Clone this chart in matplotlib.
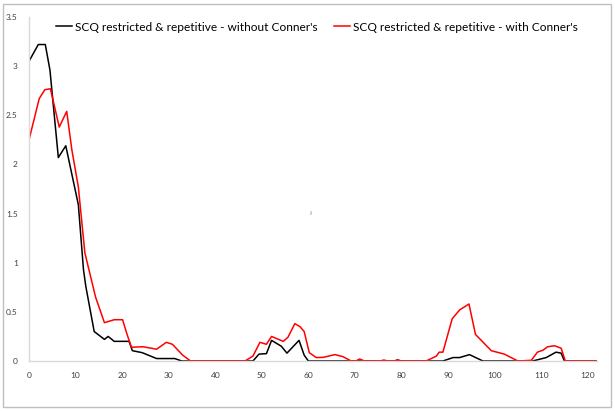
import matplotlib.pyplot as plt
from matplotlib.patches import Rectangle
from matplotlib.ticker import FuncFormatter

# values
x_without = [0, 2, 3.5, 4.5, 6.3, 7.9, 10.6, 11.7, 12.2, 14, 16.2, 17, 18.3, 21.5, 22.2, 24.3,
             27.4, 31.3, 32.8, 48.1, 49.4, 51, 52.1, 54.2, 55.4, 58, 59.1, 60, 78.5, 79.2, 80,
             88.9, 91.1, 92.5, 94.6, 97.5, 108.2, 111.1, 113.2, 114.3, 115, 121.8]
y_without = [3.05, 3.22, 3.22, 2.96, 2.07, 2.19, 1.59, 0.93, 0.76, 0.30, 0.22, 0.25, 0.20, 0.20,
             0.105, 0.085, 0.025, 0.025, 0, 0, 0.07, 0.075, 0.21, 0.15, 0.08, 0.21, 0.06, 0,
             0, 0.01, 0, 0, 0.035, 0.035, 0.065, 0, 0, 0.035, 0.09, 0.08, 0, 0]

x_with = [0, 2.2, 3.4, 4.6, 6.5, 8.1, 9.2, 10.6, 12, 14.3, 16.2, 18.3, 20.1, 21, 22, 24.5, 27.4,
          29.5, 30.8, 33, 34.7, 46.4, 48.1, 49.6, 51, 52.1, 54.6, 55.6, 57.1, 58.2, 59.1, 60.2,
          61.7, 63.2, 65.7, 67.4, 69.2, 70.2, 71, 72.1, 75.5, 76.2, 77, 78.5, 79.1, 79.7, 85.3,
          87.5, 88.1, 88.9, 90.9, 92.5, 94.5, 95.9, 99.3, 102.1, 105, 107.9, 109.2, 110.4,
          111.4, 112.9, 114.3, 115.2, 121.8]
y_with = [2.25, 2.67, 2.76, 2.77, 2.38, 2.54, 2.15, 1.77, 1.10, 0.65, 0.39, 0.42, 0.42, 0.28,
          0.14, 0.145, 0.12, 0.19, 0.17, 0.06, 0, 0, 0.05, 0.19, 0.17, 0.25, 0.2, 0.24, 0.38,
          0.35, 0.30, 0.085, 0.035, 0.037, 0.065, 0.045, 0, 0, 0.02, 0, 0, 0.01, 0, 0, 0.01, 0,
          0, 0.05, 0.09, 0.09, 0.43, 0.52, 0.58, 0.27, 0.105, 0.07, 0, 0.007, 0.09, 0.11,
          0.145, 0.155, 0.13, 0, 0]

labels = ["SCQ restricted & repetitive - without Conner's",
          "SCQ restricted & repetitive - with Conner's"]
x_ticks = list(range(0, 121, 10))
y_ticks = [0, 0.5, 1, 1.5, 2, 2.5, 3, 3.5]

plt.rcParams['font.family'] = ['Lato', 'DejaVu Sans']

fig = plt.figure(figsize=(6.15, 4.11), dpi=100)
ax = fig.add_axes([29 / 615, 50 / 411, 568 / 615, 344 / 411])

ax.plot(x_without, y_without, color="black", lw=1.1, label=labels[0])
ax.plot(x_with, y_with, color="#ff0000", lw=1.1, label=labels[1])

ax.set_xlim(0, 122)
ax.set_ylim(0, 3.5)
ax.set_xticks(x_ticks)
ax.set_yticks(y_ticks)
ax.yaxis.set_major_formatter(FuncFormatter(lambda v, p: f"{v:g}"))
ax.tick_params(length=0, labelsize=6, labelcolor="#404040")
ax.tick_params(axis="x", pad=8)
ax.tick_params(axis="y", pad=8)
for s in ["top", "right"]:
    ax.spines[s].set_visible(False)
for s in ["left", "bottom"]:
    ax.spines[s].set_color("#d9d9d9")
    ax.spines[s].set_linewidth(1.0)

fig.legend(loc="center", bbox_to_anchor=(0.515, 0.934), ncol=2, frameon=False,
           fontsize=8.6, handlelength=1.35, handletextpad=0.25, columnspacing=1.35)

fig.text(311 / 615, 1 - 213 / 411, "≀", fontsize=4, color="#404040", ha="center", va="center")

fig.patches.append(Rectangle((3 / 615, 4 / 411), 608 / 615, 403 / 411, transform=fig.transFigure,
                             fill=False, edgecolor="#bfbfbf", lw=1.0))

fig.savefig("out.png", dpi=100)
